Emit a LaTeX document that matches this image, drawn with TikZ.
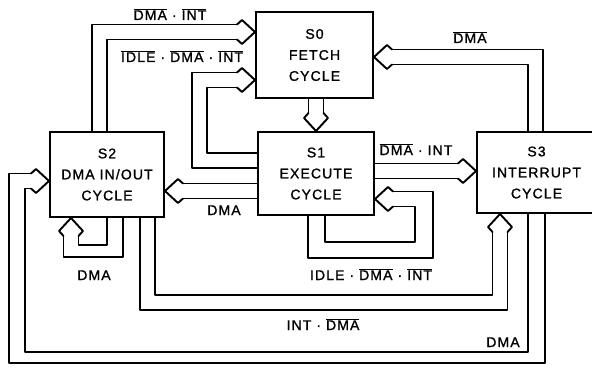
\documentclass[tikz,border=0pt]{standalone}
\usepackage{fontspec}
\setmainfont{Liberation Sans}[LetterSpace=8, FakeBold=1.2]
\usetikzlibrary{calc}
\newcommand\statefont{\fontsize{14}{21}\selectfont}
\newcommand\labfont{\fontsize{14}{16}\selectfont}
\newcommand\ovl[1]{$\overline{\mbox{#1}}$}
\tikzset{
  state/.style={draw, line width=2pt, align=center, inner sep=0pt, font=\statefont},
  lab/.style={font=\labfont, inner sep=0pt, anchor=base},
  wire/.style={line width=1.9pt, line cap=round, line join=round},
}
\newcommand\headR[1]{\draw[wire] ($(#1)+(-18,-7.5)$) -- ($(#1)+(-13,-12)$) -- (#1) -- ($(#1)+(-13,12)$) -- ($(#1)+(-18,7.5)$);}
\newcommand\headL[1]{\draw[wire] ($(#1)+(18,-7.5)$) -- ($(#1)+(13,-12)$) -- (#1) -- ($(#1)+(13,12)$) -- ($(#1)+(18,7.5)$);}
\newcommand\headU[1]{\draw[wire] ($(#1)+(-7.5,18)$) -- ($(#1)+(-12,13)$) -- (#1) -- ($(#1)+(12,13)$) -- ($(#1)+(7.5,18)$);}
\newcommand\headD[1]{\draw[wire] ($(#1)+(-7.5,-18)$) -- ($(#1)+(-12,-13)$) -- (#1) -- ($(#1)+(12,-13)$) -- ($(#1)+(7.5,-18)$);}
\begin{document}
\begin{tikzpicture}[x=1pt,y=-1pt]
\useasboundingbox (0,0) rectangle (592,369);
\clip (0,0) rectangle (592,369);
% states
\node[state, minimum width=117pt, minimum height=86pt] (S0) at (314.5,55) {S0\\FETCH\\CYCLE};
\node[state, minimum width=116pt, minimum height=83pt] (S1) at (316,173.5) {S1\\EXECUTE\\CYCLE};
\node[state, minimum width=114pt, minimum height=85pt] (S2) at (107,174.5) {S2\\DMA IN/OUT\\CYCLE};
\node[state, minimum width=119pt, minimum height=81pt] (S3) at (536.5,172.5) {S3\\INTERRUPT\\CYCLE};
% arrow tips
\coordinate (t1) at (S0.west |- 0,32);
\coordinate (t2) at (S0.west |- 0,80);
\coordinate (t3) at (S2.east |- 0,191);
\coordinate (t4) at (S3.west |- 0,171);
\coordinate (t5) at (S1.east |- 0,199);
\coordinate (t6) at (71,0 |- S2.south);
\coordinate (t7) at (500,0 |- S3.south);
\coordinate (t8) at (S2.west |- 0,181);
\coordinate (t9) at (S0.east |- 0,57);
\coordinate (t10) at (316,0 |- S1.north);
% C1 S2 -> S0
\draw[wire] (92,0 |- S2.north) -- (92,24.5) -- ($(t1)+(-18,-7.5)$);
\draw[wire] (107,0 |- S2.north) -- (107,39.5) -- ($(t1)+(-18,7.5)$);
\headR{t1}
% C2 S1 -> S0
\draw[wire] (S1.west |- 0,168) -- (192,168) -- (192,72.5) -- ($(t2)+(-18,-7.5)$);
\draw[wire] (S1.west |- 0,153) -- (207,153) -- (207,87.5) -- ($(t2)+(-18,7.5)$);
\headR{t2}
% C3 S1 -> S2
\draw[wire] (S1.west |- 0,183.5) -- ($(t3)+(18,-7.5)$);
\draw[wire] (S1.west |- 0,198.5) -- ($(t3)+(18,7.5)$);
\headL{t3}
% C4 S1 -> S3
\draw[wire] (S1.east |- 0,163.5) -- ($(t4)+(-18,-7.5)$);
\draw[wire] (S1.east |- 0,178.5) -- ($(t4)+(-18,7.5)$);
\headR{t4}
% C5 S1 -> S1
\draw[wire] (308,0 |- S1.south) -- (308,258) -- (433,258) -- (433,191.5) -- ($(t5)+(18,-7.5)$);
\draw[wire] (325,0 |- S1.south) -- (325,242) -- (415,242) -- (415,206.5) -- ($(t5)+(18,7.5)$);
\headL{t5}
% C6 S2 -> S2
\draw[wire] (123,0 |- S2.south) -- (123,257) -- (63.5,257) -- ($(t6)+(-7.5,18)$);
\draw[wire] (107,0 |- S2.south) -- (107,245) -- (78.5,245) -- ($(t6)+(7.5,18)$);
\headU{t6}
% C7 S2 -> S3
\draw[wire] (140,0 |- S2.south) -- (140,310) -- (507.5,310) -- ($(t7)+(7.5,18)$);
\draw[wire] (155,0 |- S2.south) -- (155,295) -- (492.5,295) -- ($(t7)+(-7.5,18)$);
\headU{t7}
% C8 S3 -> S2
\draw[wire] (545,0 |- S3.south) -- (545,363) -- (9,363) -- (9,173.5) -- ($(t8)+(-18,-7.5)$);
\draw[wire] (528,0 |- S3.south) -- (528,352) -- (25,352) -- (25,188.5) -- ($(t8)+(-18,7.5)$);
\headR{t8}
% C9 S3 -> S0
\draw[wire] (543,0 |- S3.north) -- (543,49.5) -- ($(t9)+(18,-7.5)$);
\draw[wire] (528,0 |- S3.north) -- (528,64.5) -- ($(t9)+(18,7.5)$);
\headL{t9}
% C10 S0 -> S1
\draw[wire] (308.5,0 |- S0.south) -- ($(t10)+(-7.5,-18)$);
\draw[wire] (323.5,0 |- S0.south) -- ($(t10)+(7.5,-18)$);
\headD{t10}
% labels
\node[lab] (L1) at (170,20) {\ovl{DMA} · \ovl{INT}};
\node[lab] (L2) at (182,62) {\ovl{IDLE} · \ovl{DMA} · \ovl{INT}};
\node[lab] (L3) at (470,43) {\ovl{DMA}};
\node[lab] (L4) at (416,155) {\ovl{DMA} · INT};
\node[lab] (L5) at (224,215) {DMA};
\node[lab] (L6) at (94,280) {DMA};
\node[lab] (L7) at (371,280) {IDLE · \ovl{DMA} · \ovl{INT}};
\node[lab] (L8) at (323,330) {INT · \ovl{DMA}};
\node[lab] (L9) at (503,347) {DMA};
\end{tikzpicture}
\end{document}
